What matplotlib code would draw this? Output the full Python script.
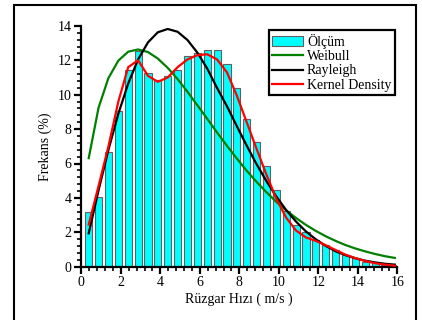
import matplotlib
matplotlib.use("Agg")
import matplotlib.pyplot as plt
from matplotlib.ticker import MultipleLocator
from matplotlib.patches import Rectangle

plt.rcParams['font.family'] = ['Liberation Serif', 'DejaVu Serif']

# Wind speed bin centres (m/s)
speed = [0.375, 0.875, 1.375, 1.875, 2.375, 2.875, 3.375, 3.875,
         4.375, 4.875, 5.375, 5.875, 6.375, 6.875, 7.375, 7.875,
         8.375, 8.875, 9.375, 9.875, 10.375, 10.875, 11.375, 11.875,
         12.375, 12.875, 13.375, 13.875, 14.375, 14.875, 15.375, 15.875]

# Measured frequency (%)
measured = [3.2, 4.07, 6.65, 9.05, 11.44, 12.54, 11.24, 10.85,
            11.09, 11.44, 12.25, 12.45, 12.6, 12.6, 11.77, 10.37,
            8.57, 7.24, 5.86, 4.46, 3.24, 2.43, 2.0, 1.55,
            1.26, 0.97, 0.68, 0.49, 0.29, 0.2, 0.12, 0.08]

weibull = [6.31, 9.25, 10.97, 11.98, 12.50, 12.63, 12.48, 12.10,
           11.56, 10.91, 10.17, 9.39, 8.60, 7.80, 7.03, 6.29,
           5.58, 4.93, 4.33, 3.77, 3.27, 2.83, 2.43, 2.08,
           1.77, 1.50, 1.26, 1.06, 0.89, 0.74, 0.61, 0.51]

rayleigh = [1.94, 4.45, 6.80, 8.89, 10.65, 12.05, 13.04, 13.63,
            13.82, 13.66, 13.18, 12.45, 11.52, 10.39, 9.33, 8.17,
            7.04, 5.96, 4.97, 4.08, 3.29, 2.62, 2.05, 1.59,
            1.21, 0.90, 0.67, 0.49, 0.35, 0.25, 0.17, 0.12]

kernel = [2.45, 4.7, 7.0, 9.6, 11.6, 12.0, 11.1, 10.75,
          11.0, 11.6, 12.05, 12.3, 12.35, 12.05, 11.3, 9.95,
          8.4, 6.85, 5.35, 3.95, 2.85, 2.1, 1.7, 1.5,
          1.25, 0.97, 0.7, 0.5, 0.33, 0.2, 0.12, 0.06]

fig = plt.figure(figsize=(4.22, 3.2), dpi=100)
ax = fig.add_axes([81.3 / 422, 53.3 / 320, 316 / 422, 240.8 / 320])

# outer frame around the figure
fig.patches.append(Rectangle((14 / 422, -0.2), 402 / 422, 1.2 - 5 / 320,
                             transform=fig.transFigure, fill=False,
                             edgecolor='black', linewidth=1.5))

bars = ax.bar(speed, measured, width=0.36, color='#00FFFF', edgecolor='#606060',
              linewidth=0.8, label='Ölçüm', zorder=2)
lw_, = ax.plot(speed, weibull, color='#008000', lw=1.6, label='Weibull', zorder=3)
lr_, = ax.plot(speed, rayleigh, color='black', lw=1.6, label='Rayleigh', zorder=3)
lk_, = ax.plot(speed, kernel, color='#FF0000', lw=1.6, label='Kernel Density', zorder=4)

ax.set_xlim(0, 16)
ax.set_ylim(0, 14)
ax.xaxis.set_major_locator(MultipleLocator(2))
ax.xaxis.set_minor_locator(MultipleLocator(0.4))
ax.yaxis.set_major_locator(MultipleLocator(2))
ax.yaxis.set_minor_locator(MultipleLocator(0.4))

for s in ('top', 'right'):
    ax.spines[s].set_visible(False)
for s in ('left', 'bottom'):
    ax.spines[s].set_linewidth(1.6)
ax.tick_params(which='major', direction='out', length=5, width=1.6,
               labelsize=10, pad=2)
ax.tick_params(which='minor', direction='out', length=3, width=1.2)

ax.set_xlabel('Rüzgar Hızı ( m/s )', fontsize=10, labelpad=2)
ax.set_ylabel('Frekans (%)', fontsize=10, labelpad=4)

leg = ax.legend([bars, lw_, lr_, lk_],
                ['Ölçüm', 'Weibull', 'Rayleigh', 'Kernel Density'],
                loc='upper right', bbox_to_anchor=(395 / 422, 1 - 30 / 320),
                bbox_transform=fig.transFigure, fontsize=10, frameon=True,
                fancybox=False, edgecolor='black', framealpha=1,
                handlelength=2.2, handletextpad=0.3, labelspacing=0.1,
                borderpad=0.25, borderaxespad=0)
leg.get_frame().set_linewidth(1.6)

fig.savefig('out.png', dpi=100)
